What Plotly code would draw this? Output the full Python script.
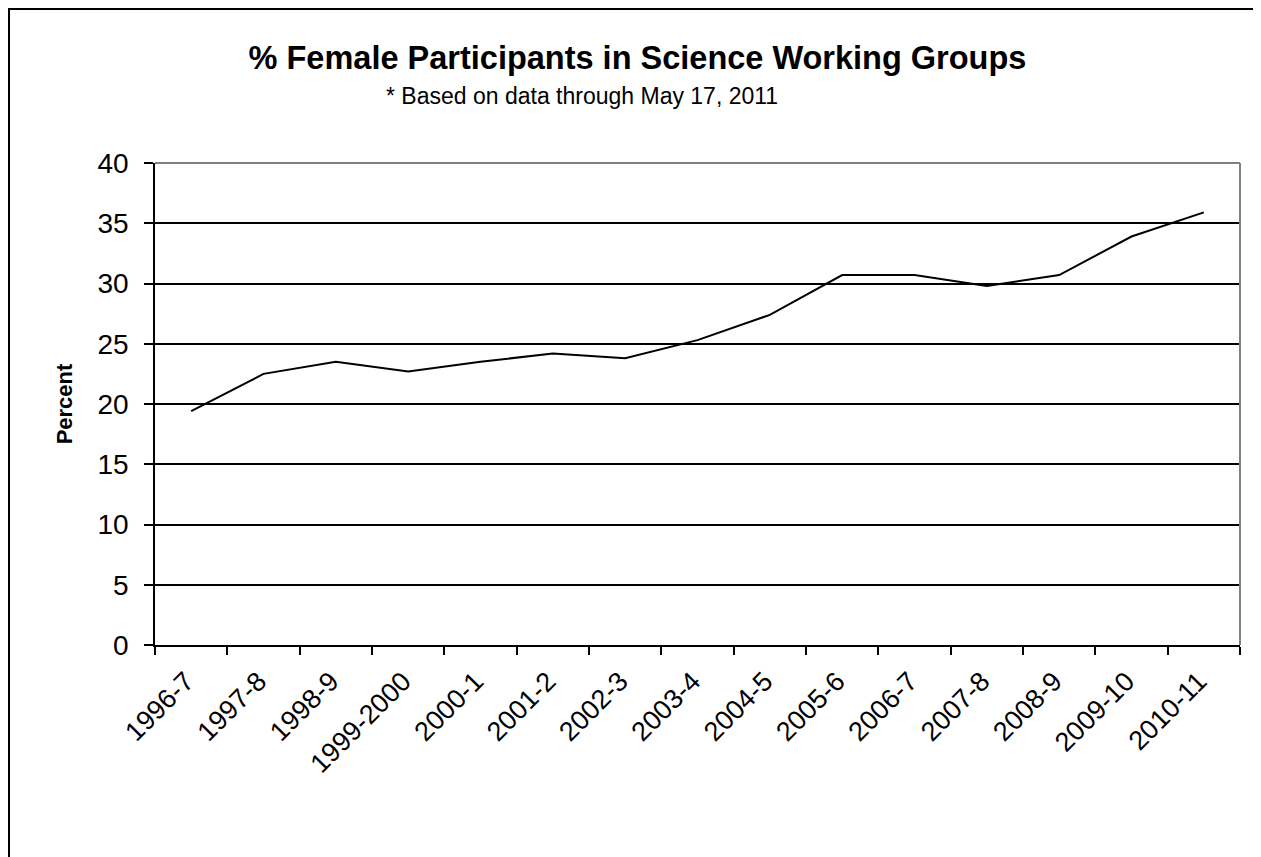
import plotly.graph_objects as go

categories = ["1996-7", "1997-8", "1998-9", "1999-2000", "2000-1", "2001-2", "2002-3",
              "2003-4", "2004-5", "2005-6", "2006-7", "2007-8", "2008-9", "2009-10", "2010-11"]
percent_female = [19.4, 22.5, 23.5, 22.7, 23.5, 24.2, 23.8, 25.3, 27.4, 30.7, 30.7, 29.8, 30.7, 33.9, 35.9]
y_ticks = [0, 5, 10, 15, 20, 25, 30, 35, 40]

FONT = "Liberation Sans, Arial, sans-serif"

fig = go.Figure()
fig.add_trace(go.Scatter(
    x=categories, y=percent_female, mode="lines",
    line=dict(color="black", width=2), showlegend=False, hoverinfo="x+y"))

# page has an 8px body margin, so the figure is sized to fit the window
OFF = 8
W, H = 1261 - OFF, 857 - OFF
L, R, T, B = 155 - OFF, 21, 163 - OFF, 212
pw, ph = W - L - R, H - T - B

def px_x(px):
    return (px - OFF - L) / pw

def px_y(py):
    return (H - B - (py - OFF)) / ph

fig.update_layout(
    width=W, height=H,
    margin=dict(l=L, r=R, t=T, b=B, autoexpand=False),
    paper_bgcolor="white", plot_bgcolor="white",
    font=dict(family=FONT, color="black"),
    title=dict(text="<b>% Female Participants in Science Working Groups</b>",
               x=((248 + 1027) / 2 - OFF) / W, xanchor="center", y=1 - (58 - OFF) / H, yanchor="middle",
               font=dict(size=32.5, family=FONT, color="black")),
    annotations=[dict(text="* Based on data through May 17, 2011", xref="paper", yref="paper",
                      x=px_x((388 + 775) / 2), y=px_y(96), xanchor="center", yanchor="middle",
                      showarrow=False, font=dict(size=23, family=FONT, color="black"))],
    xaxis=dict(type="category", tickson="boundaries", ticks="outside", ticklen=8,
               tickcolor="black", tickwidth=1.5, showline=True, linecolor="black", linewidth=1.5,
               showgrid=False, tickangle=-45, tickfont=dict(size=27, family=FONT),
               ticklabelstandoff=8, ticklabelshift=-5,
               range=[-0.5, len(categories) - 0.5], mirror=False, fixedrange=True),
    yaxis=dict(range=[0, 40], tickvals=y_ticks, ticks="outside", ticklen=9, tickcolor="black",
               tickwidth=1.5, showline=True, linecolor="black", linewidth=1.5,
               showgrid=True, gridcolor="black", gridwidth=1.8, zeroline=False,
               tickfont=dict(size=28, family=FONT), ticklabelstandoff=10,
               title=dict(text="<b>Percent</b>", font=dict(size=22, family=FONT), standoff=19),
               fixedrange=True),
    shapes=[
        # plot area top & right border (gray)
        dict(type="line", xref="paper", yref="paper", x0=0, x1=1, y0=1, y1=1,
             line=dict(color="#808080", width=2)),
        dict(type="line", xref="paper", yref="paper", x0=1, x1=1, y0=0, y1=1,
             line=dict(color="#808080", width=2)),
        # outer chart border (left & top visible)
        dict(type="rect", xref="paper", yref="paper", x0=px_x(OFF + 1), x1=px_x(1261 + 10),
             y0=px_y(857 + 10), y1=px_y(OFF + 1), line=dict(color="black", width=2), layer="above"),
    ],
)

fig.write_html("out.html")
